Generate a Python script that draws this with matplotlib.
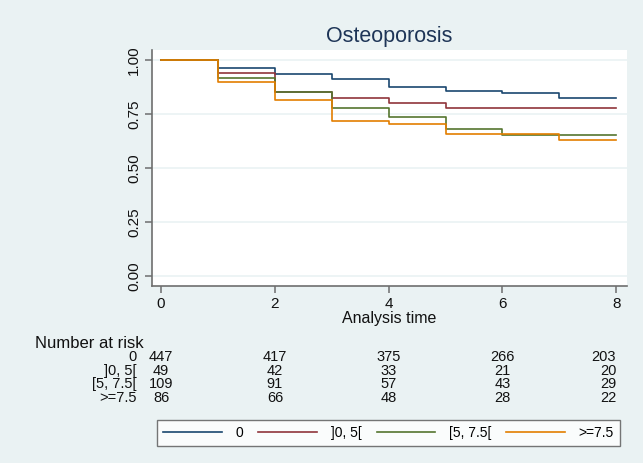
import numpy as np
import matplotlib.pyplot as plt
import matplotlib.transforms as mtransforms

plt.rcParams['font.family'] = ['Liberation Sans', 'DejaVu Sans']

# Kaplan-Meier survival estimates by group (yearly steps)
times = [0, 1, 2, 3, 4, 5, 6, 7, 8]
groups = ['0', ']0, 5[', '[5, 7.5[', '>=7.5']
surv_0 = [1.0, 0.963, 0.935, 0.912, 0.876, 0.856, 0.849, 0.823, 0.823]
surv_0_5 = [1.0, 0.938, 0.852, 0.824, 0.801, 0.778, 0.778, 0.778, 0.778]
surv_5_75 = [1.0, 0.917, 0.853, 0.779, 0.738, 0.682, 0.651, 0.651, 0.651]
surv_75 = [1.0, 0.897, 0.813, 0.718, 0.702, 0.659, 0.659, 0.630, 0.630]
colors = ['#1a476f', '#90353b', '#55752f', '#e37e00']

# number at risk table
risk_times = [0, 2, 4, 6, 8]
risk_0 = [447, 417, 375, 266, 203]
risk_0_5 = [49, 42, 33, 21, 20]
risk_5_75 = [109, 91, 57, 43, 29]
risk_75 = [86, 66, 48, 28, 22]

bg = '#eaf2f3'
fig = plt.figure(figsize=(6.43, 4.63), dpi=100, facecolor=bg)
ax = fig.add_axes([0.2364, 0.3823, 0.7387, 0.5097])
ax.set_facecolor('white')

lines = []
for s, c, g in zip([surv_0, surv_0_5, surv_5_75, surv_75], colors, groups):
    ln, = ax.step(times, s, where='post', color=c, lw=1.2, label=g)
    lines.append(ln)

ax.set_xlim(-0.16, 8.19)
ax.set_ylim(-0.046, 1.046)
ax.set_xticks([0, 2, 4, 6, 8])
ax.set_yticks([0, 0.25, 0.5, 0.75, 1.0])
ax.set_yticklabels(['0.00', '0.25', '0.50', '0.75', '1.00'], rotation=90, va='center')
ax.grid(axis='y', color=bg, lw=1.2)
ax.set_axisbelow(True)
for sp in ['top', 'right']:
    ax.spines[sp].set_visible(False)
for sp in ['left', 'bottom']:
    ax.spines[sp].set_color('#6e6e6e')
    ax.spines[sp].set_linewidth(1.2)
ax.tick_params(colors='#6e6e6e', labelcolor='#111111', labelsize=11,
               length=5, width=1.1, pad=3)
ax.set_xlabel('Analysis time', fontsize=11.5, color='#111111', labelpad=0)
ax.set_title('Osteoporosis', fontsize=15.5, color='#1e3557', pad=6)

# number at risk below the axis
tr = mtransforms.blended_transform_factory(ax.transData, fig.transFigure)
fig.text(35 / 643, 1 - 343 / 463, 'Number at risk', fontsize=12,
         va='center', ha='left', color='#111111')
rows = [risk_0, risk_0_5, risk_5_75, risk_75]
row_y = [357, 371, 384, 398]
for g, r, yp in zip(groups, rows, row_y):
    yf = 1 - yp / 463
    fig.text(137 / 643, yf, g, fontsize=10.5, ha='right', va='center', color='#111111')
    for t, n in zip(risk_times, r):
        ha = 'right' if t == risk_times[-1] else 'center'
        ax.text(t, yf, str(n), transform=tr, fontsize=10.5, ha=ha, va='center',
                color='#111111', clip_on=False)

leg = fig.legend(handles=lines, labels=groups, ncol=4, mode='expand',
                 bbox_to_anchor=(157 / 643, 1 - 446 / 463, 463 / 643, 29 / 463),
                 loc='lower left', fontsize=10, frameon=True, fancybox=False,
                 handlelength=4.2, handletextpad=1.0, borderpad=0.45,
                 borderaxespad=0)
leg.get_frame().set_edgecolor('#555555')
leg.get_frame().set_linewidth(1.0)
leg.get_frame().set_facecolor('white')

fig.savefig('out.png', dpi=100, facecolor=bg)
